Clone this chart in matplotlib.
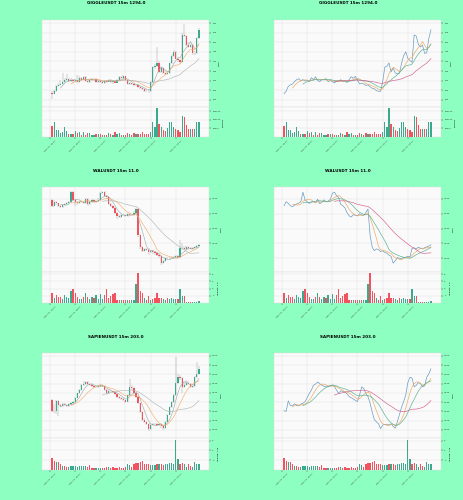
import numpy as np
import pandas as pd
import matplotlib
matplotlib.use("Agg")
import matplotlib.pyplot as plt
from matplotlib.ticker import FixedLocator, FuncFormatter

# ---------------- data ----------------
titles = ["GIGGLEUSDT 15m 1294.0", "WALUSDT 15m 11.0", "SAPIENUSDT 15m 203.0"]
time_labels = ["Nov 06, 15:00", "Nov 06, 18:00", "Nov 06, 21:00",
               "Nov 07, 00:00", "Nov 07, 03:00", "Nov 07, 06:00"]
time_tick_pos = [-1, 11, 23, 35, 47, 59]

giggle_close = [123.2, 124.5, 127.0, 127.8, 128.2, 129.5, 130.5, 131.0, 130.0, 130.5,
                129.8, 130.2, 129.5, 131.5, 130.5, 132.0, 130.0, 129.5, 130.5, 130.6,
                131.0, 129.5, 130.0, 129.5, 128.8, 129.8, 129.5, 130.5, 129.5, 129.8,
                129.0, 130.5, 132.0, 131.2, 132.2, 130.2, 128.3, 128.6, 128.2, 127.5,
                127.8, 126.8, 126.0, 125.8, 124.8, 124.5, 124.4, 129.4, 137.0, 137.5,
                139.2, 134.5, 136.5, 134.0, 133.5, 134.0, 139.0, 143.0, 145.0, 141.5,
                140.5, 139.5, 153.8, 153.2, 148.8, 147.5, 148.5, 144.2, 144.5, 152.0, 156.5]
giggle_open = [123.5, 123.2, 124.5, 127.0, 127.8, 128.2, 129.5, 130.5, 131.0, 130.0,
               130.5, 129.8, 130.2, 129.5, 131.5, 130.5, 132.0, 130.0, 129.5, 130.5,
               130.6, 131.0, 129.5, 130.0, 129.5, 128.8, 129.8, 129.5, 130.5, 129.5,
               129.8, 129.0, 130.5, 132.0, 131.2, 132.2, 130.2, 128.3, 128.6, 128.2,
               127.5, 127.8, 126.8, 126.0, 125.8, 124.8, 124.5, 124.4, 129.4, 137.0,
               137.5, 139.2, 134.5, 136.5, 134.0, 133.5, 134.0, 139.0, 143.0, 145.0,
               141.5, 140.5, 139.5, 153.8, 153.2, 148.8, 147.5, 148.5, 144.2, 144.5, 152.0]
giggle_high = [124.5, 125.2, 127.6, 128.8, 130.5, 133.8, 131.5, 133.5, 131.6, 131.2,
               131.0, 131.0, 133.0, 132.2, 132.0, 132.6, 132.4, 130.8, 131.2, 131.2,
               131.6, 131.4, 130.6, 130.5, 130.0, 130.4, 130.4, 131.0, 130.9, 130.5,
               130.2, 131.0, 132.6, 132.5, 132.8, 132.5, 130.5, 129.2, 129.0, 128.6,
               128.4, 128.2, 127.2, 126.6, 126.2, 125.4, 125.6, 130.0, 137.8, 138.5,
               147.5, 140.0, 137.4, 137.0, 134.8, 134.8, 139.8, 144.0, 146.2, 145.6,
               142.2, 141.2, 154.6, 159.6, 154.0, 150.0, 149.4, 149.0, 145.5, 152.8, 157.2]
giggle_low = [120.2, 122.8, 124.0, 126.5, 127.2, 127.8, 129.0, 130.0, 129.2, 129.4,
              128.5, 129.2, 129.0, 129.0, 130.0, 130.0, 129.5, 128.8, 129.0, 130.0,
              130.0, 129.0, 129.0, 129.0, 128.2, 128.4, 129.0, 129.2, 129.0, 128.4,
              128.5, 128.8, 130.2, 130.8, 130.8, 129.8, 127.8, 127.8, 127.6, 127.0,
              127.0, 126.3, 125.5, 125.2, 124.3, 124.0, 123.8, 124.0, 129.0, 136.2,
              137.0, 133.8, 134.0, 133.5, 132.8, 133.0, 133.5, 138.5, 142.4, 141.0,
              139.8, 138.8, 139.0, 152.5, 148.2, 146.8, 146.8, 143.6, 143.4, 144.0, 151.5]
giggle_volume = [66000, 87500, 39000, 39000, 21000, 30000, 57000, 34000, 18000, 18000,
                 18000, 34000, 25000, 28000, 12000, 30000, 12000, 25000, 25000, 12000,
                 14000, 16000, 16000, 16000, 14000, 14000, 14000, 21000, 18000, 14000,
                 27000, 18000, 25000, 14000, 12000, 14000, 21000, 18000, 14000, 25000,
                 18000, 18000, 16000, 28000, 18000, 20000, 18000, 30000, 87500, 57000,
                 165000, 75000, 55000, 40000, 36000, 52000, 84000, 84000, 60000, 48000,
                 40000, 30000, 120000, 116000, 72000, 48000, 48000, 45000, 45000, 88000, 84000]

wal_close = [0.1377, 0.1391, 0.1385, 0.1377, 0.1374, 0.1379, 0.1383, 0.1386, 0.1391, 0.1423,
             0.1397, 0.1391, 0.1385, 0.1389, 0.1391, 0.1387, 0.1399, 0.1384, 0.1389, 0.1397,
             0.1391, 0.1393, 0.1398, 0.1419, 0.1423, 0.1411, 0.1405, 0.1382, 0.1377, 0.1370,
             0.1354, 0.1343, 0.1339, 0.1347, 0.1345, 0.1343, 0.1350, 0.1345, 0.1345, 0.1354,
             0.1366, 0.1277, 0.1237, 0.1225, 0.1231, 0.1229, 0.1222, 0.1225, 0.1219, 0.1217,
             0.1210, 0.1206, 0.1183, 0.1191, 0.1202, 0.1199, 0.1199, 0.1202, 0.1203, 0.1206,
             0.1204, 0.1233, 0.1235, 0.1231, 0.1237, 0.1233, 0.1231, 0.1235, 0.1238, 0.1241, 0.1245]
wal_open = [0.1395, 0.1377, 0.1391, 0.1385, 0.1377, 0.1374, 0.1379, 0.1383, 0.1386, 0.1391,
            0.1423, 0.1397, 0.1391, 0.1385, 0.1389, 0.1391, 0.1387, 0.1399, 0.1384, 0.1389,
            0.1397, 0.1391, 0.1393, 0.1398, 0.1419, 0.1423, 0.1411, 0.1405, 0.1382, 0.1377,
            0.1370, 0.1354, 0.1343, 0.1339, 0.1347, 0.1345, 0.1343, 0.1350, 0.1345, 0.1345,
            0.1354, 0.1366, 0.1277, 0.1237, 0.1225, 0.1231, 0.1229, 0.1222, 0.1225, 0.1219,
            0.1217, 0.1210, 0.1206, 0.1183, 0.1191, 0.1202, 0.1199, 0.1199, 0.1202, 0.1203,
            0.1206, 0.1204, 0.1233, 0.1235, 0.1231, 0.1237, 0.1233, 0.1231, 0.1235, 0.1238, 0.1241]
wal_high = [0.1399, 0.1396, 0.1394, 0.1388, 0.1381, 0.1383, 0.1386, 0.1390, 0.1394, 0.1428,
            0.1426, 0.1400, 0.1394, 0.1393, 0.1395, 0.1394, 0.1403, 0.1402, 0.1393, 0.1400,
            0.1400, 0.1397, 0.1402, 0.1423, 0.1428, 0.1426, 0.1414, 0.1408, 0.1386, 0.1380,
            0.1373, 0.1357, 0.1347, 0.1350, 0.1350, 0.1349, 0.1353, 0.1353, 0.1349, 0.1358,
            0.1370, 0.1369, 0.1281, 0.1241, 0.1235, 0.1234, 0.1233, 0.1229, 0.1228, 0.1223,
            0.1220, 0.1214, 0.1209, 0.1195, 0.1205, 0.1205, 0.1203, 0.1206, 0.1206, 0.1210,
            0.1209, 0.1262, 0.1250, 0.1240, 0.1241, 0.1241, 0.1236, 0.1239, 0.1241, 0.1245, 0.1249]
wal_low = [0.1374, 0.1373, 0.1381, 0.1372, 0.1370, 0.1371, 0.1376, 0.1380, 0.1383, 0.1388,
           0.1392, 0.1376, 0.1381, 0.1382, 0.1386, 0.1383, 0.1384, 0.1375, 0.1380, 0.1386,
           0.1387, 0.1388, 0.1390, 0.1395, 0.1416, 0.1407, 0.1400, 0.1378, 0.1372, 0.1366,
           0.1349, 0.1333, 0.1335, 0.1336, 0.1341, 0.1339, 0.1340, 0.1341, 0.1341, 0.1342,
           0.1350, 0.1272, 0.1232, 0.1220, 0.1221, 0.1224, 0.1212, 0.1218, 0.1215, 0.1212,
           0.1206, 0.1201, 0.1178, 0.1180, 0.1188, 0.1195, 0.1195, 0.1196, 0.1198, 0.1199,
           0.1200, 0.1201, 0.1229, 0.1227, 0.1228, 0.1229, 0.1227, 0.1228, 0.1232, 0.1235, 0.1238]
wal_volume = [2.9e7, 1.3e7, 2.2e7, 1.6e7, 1.7e7, 1.0e7, 2.2e7, 1.6e7, 1.3e7, 3.4e7,
              3.9e7, 2.7e7, 1.7e7, 1.2e7, 1.2e7, 1.7e7, 2.7e7, 1.7e7, 1.2e7, 1.7e7,
              1.3e7, 2.2e7, 1.2e7, 2.5e7, 1.0e7, 2.2e7, 3.8e7, 1.3e7, 1.9e7, 2.5e7,
              2.9e7, 0.8e7, 0.8e7, 0.8e7, 0.8e7, 0.8e7, 0.8e7, 0.8e7, 0.8e7, 0.8e7,
              5.4e7, 8.2e7, 3.4e7, 2.9e7, 1.3e7, 0.8e7, 1.9e7, 0.8e7, 1.0e7, 1.3e7,
              2.7e7, 1.5e7, 1.5e7, 1.0e7, 0.8e7, 1.3e7, 1.0e7, 1.3e7, 1.0e7, 1.2e7,
              1.2e7, 3.8e7, 1.9e7, 1.9e7, 0.4e7, 0.4e7, 0.3e7, 0.2e7, 0.2e7, 0.3e7, 0.5e7]

sapien_close = [0.1304, 0.1300, 0.1357, 0.1332, 0.1330, 0.1341, 0.1332, 0.1330, 0.1339, 0.1344,
                0.1353, 0.1374, 0.1397, 0.1415, 0.1441, 0.1448, 0.1459, 0.1450, 0.1441, 0.1436,
                0.1433, 0.1433, 0.1438, 0.1443, 0.1436, 0.1415, 0.1397, 0.1411, 0.1409, 0.1403,
                0.1396, 0.1380, 0.1374, 0.1367, 0.1360, 0.1353, 0.1389, 0.1433, 0.1424, 0.1397,
                0.1380, 0.1344, 0.1297, 0.1256, 0.1244, 0.1233, 0.1207, 0.1226, 0.1230, 0.1230,
                0.1226, 0.1233, 0.1219, 0.1209, 0.1244, 0.1283, 0.1322, 0.1353, 0.1389, 0.1456,
                0.1485, 0.1480, 0.1433, 0.1441, 0.1456, 0.1450, 0.1433, 0.1438, 0.1485, 0.1503, 0.1530]
sapien_open = [0.1362, 0.1304, 0.1300, 0.1357, 0.1332, 0.1330, 0.1341, 0.1332, 0.1330, 0.1339,
               0.1344, 0.1353, 0.1374, 0.1397, 0.1415, 0.1441, 0.1448, 0.1459, 0.1450, 0.1441,
               0.1436, 0.1433, 0.1433, 0.1438, 0.1443, 0.1436, 0.1415, 0.1397, 0.1411, 0.1409,
               0.1403, 0.1396, 0.1380, 0.1374, 0.1367, 0.1360, 0.1353, 0.1389, 0.1433, 0.1424,
               0.1397, 0.1380, 0.1344, 0.1297, 0.1256, 0.1244, 0.1233, 0.1207, 0.1226, 0.1230,
               0.1230, 0.1226, 0.1233, 0.1219, 0.1209, 0.1244, 0.1283, 0.1322, 0.1353, 0.1389,
               0.1456, 0.1485, 0.1480, 0.1433, 0.1441, 0.1456, 0.1450, 0.1433, 0.1438, 0.1485, 0.1503]
sapien_high = [0.1366, 0.1340, 0.1362, 0.1362, 0.1340, 0.1346, 0.1345, 0.1337, 0.1343, 0.1349,
               0.1357, 0.1379, 0.1402, 0.1420, 0.1447, 0.1462, 0.1466, 0.1464, 0.1456, 0.1452,
               0.1441, 0.1440, 0.1443, 0.1448, 0.1447, 0.1440, 0.1420, 0.1423, 0.1418, 0.1413,
               0.1407, 0.1400, 0.1386, 0.1378, 0.1371, 0.1364, 0.1394, 0.1478, 0.1445, 0.1430,
               0.1402, 0.1385, 0.1348, 0.1301, 0.1262, 0.1250, 0.1238, 0.1231, 0.1236, 0.1237,
               0.1235, 0.1238, 0.1237, 0.1224, 0.1249, 0.1288, 0.1327, 0.1358, 0.1395, 0.1596,
               0.1500, 0.1495, 0.1486, 0.1462, 0.1470, 0.1462, 0.1455, 0.1445, 0.1490, 0.1565, 0.1548]
sapien_low = [0.1298, 0.1290, 0.1285, 0.1276, 0.1322, 0.1325, 0.1327, 0.1322, 0.1325, 0.1334,
              0.1340, 0.1349, 0.1370, 0.1392, 0.1410, 0.1436, 0.1442, 0.1444, 0.1435, 0.1430,
              0.1428, 0.1427, 0.1428, 0.1433, 0.1431, 0.1410, 0.1390, 0.1392, 0.1403, 0.1397,
              0.1388, 0.1375, 0.1368, 0.1362, 0.1355, 0.1348, 0.1349, 0.1385, 0.1418, 0.1392,
              0.1374, 0.1338, 0.1290, 0.1250, 0.1238, 0.1226, 0.1196, 0.1202, 0.1220, 0.1223,
              0.1220, 0.1221, 0.1212, 0.1200, 0.1205, 0.1240, 0.1278, 0.1316, 0.1348, 0.1384,
              0.1450, 0.1470, 0.1400, 0.1425, 0.1436, 0.1444, 0.1427, 0.1428, 0.1433, 0.1480, 0.1498]
sapien_volume = [2.4e6, 1.9e6, 1.7e6, 1.7e6, 1.3e6, 0.9e6, 0.8e6, 0.7e6, 0.7e6, 0.8e6,
                 0.9e6, 0.8e6, 0.7e6, 0.8e6, 0.9e6, 0.9e6, 0.8e6, 0.7e6, 1.1e6, 0.5e6,
                 0.5e6, 0.35e6, 0.35e6, 0.4e6, 0.5e6, 0.5e6, 0.7e6, 0.7e6, 0.5e6, 0.7e6,
                 0.5e6, 0.5e6, 0.7e6, 0.5e6, 0.4e6, 0.7e6, 1.3e6, 1.1e6, 0.7e6, 1.2e6,
                 1.5e6, 1.5e6, 1.7e6, 1.9e6, 1.3e6, 1.3e6, 1.3e6, 1.1e6, 1.1e6, 1.1e6,
                 1.2e6, 1.3e6, 1.2e6, 1.1e6, 1.3e6, 1.3e6, 1.5e6, 1.4e6, 1.3e6, 6.2e6,
                 2.2e6, 1.2e6, 1.5e6, 1.2e6, 0.7e6, 1.3e6, 0.8e6, 0.7e6, 1.7e6, 1.2e6, 1.3e6]

price_ticks = [[120, 125, 130, 135, 140, 145, 150, 155, 160],
               [0.120, 0.125, 0.130, 0.135, 0.140],
               [0.120, 0.125, 0.130, 0.135, 0.140, 0.145, 0.150, 0.155, 0.160]]
price_fmt = ["{:.0f}", "{:.3f}", "{:.3f}"]
vol_ticks = [[50000, 100000, 150000], [2e7, 4e7, 6e7, 8e7], [2e6, 4e6, 6e6]]
vol_scale = [1, 1e7, 1e6]
vol_label = ["Volume", "Volume  $10^{7}$", "Volume  $10^{6}$"]
mav_periods = [5, 10, 25]

charts = [
    (giggle_open, giggle_high, giggle_low, giggle_close, giggle_volume),
    (wal_open, wal_high, wal_low, wal_close, wal_volume),
    (sapien_open, sapien_high, sapien_low, sapien_close, sapien_volume),
]

# ---------------- style ----------------
BG = "#8dffc1"
AX_BG = "#fafafa"
UP = "#3aa98c"
DOWN = "#f2545f"
WICK = "#a0a0a0"
GRID = "#e0e0e0"
LEFT_MA = ["#9aa6a6", "#f2a85e", "#a9b1b1"]
RIGHT_MA = ["#f2a55a", "#55b08f", "#d2608f"]
CLOSE_C = "#6b9cc2"
TS = 1.6  # tick font size

W, H = 464, 500
fig = plt.figure(figsize=(W / 100, H / 100), dpi=100, facecolor=BG)

rows = [(20, 107, 137), (187, 272, 303), (353, 438, 470)]
cols = [42, 274]
AXW = 167


def rect(x0, ytop, ybot):
    return [x0 / W, 1 - ybot / H, AXW / W, (ybot - ytop) / H]


def style_ax(ax):
    ax.set_facecolor(AX_BG)
    for s in ax.spines.values():
        s.set_color("#dddddd")
        s.set_linewidth(0.3)
    ax.grid(True, color=GRID, linewidth=0.3)
    ax.set_axisbelow(True)
    ax.yaxis.tick_right()
    ax.yaxis.set_label_position("right")
    ax.tick_params(axis="both", labelsize=TS, length=1.2, width=0.3,
                   pad=1.2, colors="#333333")


for r, (o, h, l, c, v) in enumerate(charts):
    o = np.array(o); h = np.array(h); l = np.array(l); c = np.array(c); v = np.array(v)
    n = len(c)
    x = np.arange(n)
    up = c >= o
    colors = np.where(up, UP, DOWN)
    rng = h.max() - l.min()
    ylo, yhi = l.min() - 0.1 * rng, h.max() + 0.05 * rng
    mas = [pd.Series(c).rolling(p).mean().values for p in mav_periods]
    ytop, ymid, ybot = rows[r]
    for ci, x0 in enumerate(cols):
        axp = fig.add_axes(rect(x0, ytop, ymid))
        axv = fig.add_axes(rect(x0, ymid, ybot), sharex=axp)
        style_ax(axp); style_ax(axv)
        if ci == 0:
            axp.vlines(x, l, h, color=WICK, linewidth=0.35, zorder=2)
            body_h = np.maximum(np.abs(c - o), rng * 0.004)
            axp.bar(x, body_h, bottom=np.minimum(o, c), width=0.6,
                    color=colors, linewidth=0, zorder=3)
            for m, col in zip(mas, LEFT_MA):
                axp.plot(x, m, color=col, linewidth=0.4, zorder=4)
        else:
            axp.plot(x, c, color=CLOSE_C, linewidth=0.5, zorder=3)
            for m, col in zip(mas, RIGHT_MA):
                axp.plot(x, m, color=col, linewidth=0.45, zorder=4)
        axp.set_ylim(ylo, yhi)
        axp.yaxis.set_major_locator(FixedLocator(price_ticks[r]))
        fmt = price_fmt[r]
        axp.yaxis.set_major_formatter(FuncFormatter(lambda val, pos, f=fmt: f.format(val)))
        axp.set_ylabel("Price", fontsize=1.7, labelpad=1.5)
        axp.tick_params(axis="x", labelbottom=False)

        axv.bar(x, v, width=0.6, color=colors, linewidth=0, zorder=3)
        axv.set_ylim(0, v.max() * 1.05)
        axv.yaxis.set_major_locator(FixedLocator(vol_ticks[r]))
        sc = vol_scale[r]
        axv.yaxis.set_major_formatter(FuncFormatter(lambda val, pos, s=sc: "{:g}".format(val / s)))
        axv.set_ylabel(vol_label[r], fontsize=1.7, labelpad=1.5)
        axv.set_xlim(-4.8, n - 1 + 4.8)
        axv.xaxis.set_major_locator(FixedLocator(time_tick_pos))
        axv.set_xticklabels(time_labels, rotation=45, fontsize=TS)

        fig.text((x0 - 42 + 116) / W, 1 - (ytop - 16.5) / H, titles[r],
                 ha="center", va="center", fontsize=3.0, fontweight="bold")

fig.savefig("out.png", dpi=100, facecolor=BG)
